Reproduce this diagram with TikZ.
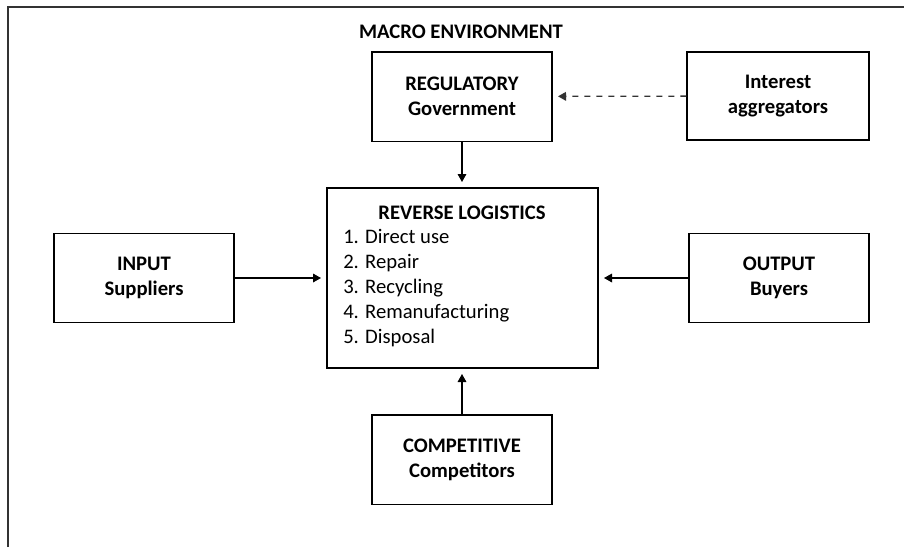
\documentclass[tikz,border=0pt]{standalone}
\usepackage{fontspec}
\setmainfont{Carlito}
\usepackage{tikz}
\usetikzlibrary{arrows.meta}

\tikzset{
  box/.style={draw, line width=1pt, minimum width=135pt, minimum height=67pt,
              align=center, inner sep=0pt},
  arr/.style={line width=0.9pt, -{Triangle[length=6pt,width=6.5pt]}, shorten >=4pt},
  dasharr/.style={arr, line width=1pt, dash pattern=on 4.5pt off 4.5pt, draw=black!80},
}

\begin{document}
\begin{tikzpicture}[x=0.75pt, y=-0.75pt]
\fontsize{15.5}{18.75}\selectfont
\useasboundingbox (0,0) rectangle (904,547);
\draw[line width=1pt, black!80] (8,547) -- (8,7) -- (904,7);

\node (macro) at (461,32) {\bfseries MACRO ENVIRONMENT};

\node[box] (reg) at (462,96.5) {\bfseries REGULATORY\\ \bfseries Government};
\node[box, minimum width=136.5pt, minimum height=66pt] (aggr) at (778,96)
  {\bfseries Interest\\ \bfseries aggregators};
\node[box] (input) at (144,278) {\bfseries INPUT\\ \bfseries Suppliers};
\node[box] (output) at (779,278) {\bfseries OUTPUT\\ \bfseries Buyers};
\node[box] (comp) at (462,459.5) {\bfseries COMPETITIVE\\ \bfseries Competitors};

\node[box, minimum width=203.25pt, minimum height=135pt] (rl) at (462.5,278) {};
\node (rltitle) at (462,213) {\bfseries REVERSE LOGISTICS};
\node[anchor=west, align=left, inner sep=0pt] (rllist) at (343,288.5)
  {1. Direct use\\ 2. Repair\\ 3. Recycling\\ 4. Remanufacturing\\ 5. Disposal};

\draw[arr] (reg) -- (reg |- rl.north);
\draw[arr] (comp) -- (comp |- rl.south);
\draw[arr] (input) -- (rl);
\draw[arr] (output) -- (rl);
\draw[dasharr] (aggr) -- (reg);

\end{tikzpicture}
\end{document}
